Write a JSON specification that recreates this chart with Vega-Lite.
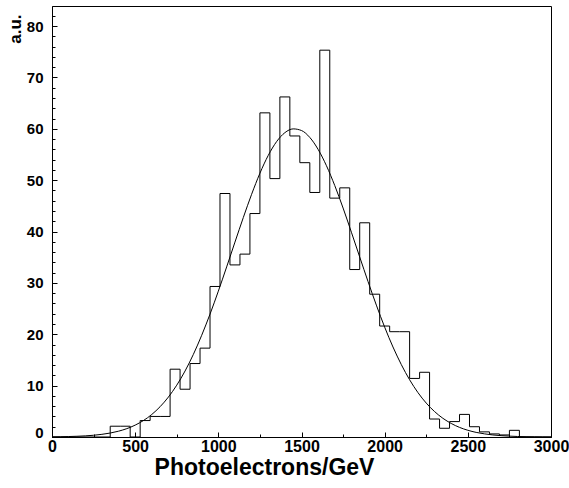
{
  "$schema": "https://vega.github.io/schema/vega-lite/v6.json",
  "width": 499,
  "height": 431,
  "autosize": "none",
  "padding": {"left": 52, "top": 6, "right": 18, "bottom": 51},
  "background": "white",
  "config": {
    "view": {"stroke": "black", "strokeWidth": 1},
    "axis": {
      "labelFont": "Liberation Sans",
      "titleFont": "Liberation Sans",
      "labelFontWeight": "bold",
      "titleFontWeight": "bold",
      "labelColor": "black",
      "titleColor": "black",
      "domainColor": "black",
      "tickColor": "black",
      "grid": false
    }
  },
  "datasets": {
    "hist": [
      {"x": 0, "y": 0}, {"x": 350, "y": 2.1}, {"x": 410, "y": 2.1}, {"x": 470, "y": 0},
      {"x": 530, "y": 3.2}, {"x": 590, "y": 4.0}, {"x": 650, "y": 4.0}, {"x": 710, "y": 13.2},
      {"x": 770, "y": 9.3}, {"x": 830, "y": 14.3}, {"x": 890, "y": 17.3}, {"x": 950, "y": 29.3},
      {"x": 1010, "y": 47.4}, {"x": 1070, "y": 33.5}, {"x": 1130, "y": 35.6}, {"x": 1190, "y": 43.5},
      {"x": 1250, "y": 63.1}, {"x": 1310, "y": 50.3}, {"x": 1370, "y": 66.2}, {"x": 1430, "y": 58.6},
      {"x": 1490, "y": 53.4}, {"x": 1550, "y": 47.6}, {"x": 1610, "y": 75.3}, {"x": 1670, "y": 46.5},
      {"x": 1730, "y": 48.5}, {"x": 1790, "y": 32.6}, {"x": 1850, "y": 41.7}, {"x": 1910, "y": 27.8},
      {"x": 1970, "y": 21.6}, {"x": 2030, "y": 20.5}, {"x": 2090, "y": 20.5}, {"x": 2150, "y": 11.4},
      {"x": 2210, "y": 12.6}, {"x": 2270, "y": 3.5}, {"x": 2330, "y": 1.7}, {"x": 2390, "y": 3.0},
      {"x": 2450, "y": 4.4}, {"x": 2510, "y": 2.0}, {"x": 2570, "y": 1.0}, {"x": 2630, "y": 0.6},
      {"x": 2690, "y": 0.4}, {"x": 2750, "y": 1.3}, {"x": 2810, "y": 0}, {"x": 3000, "y": 0}
    ],
    "fit": [
      {"x": 0, "y": 0.03}, {"x": 50, "y": 0.05}, {"x": 100, "y": 0.09}, {"x": 150, "y": 0.14},
      {"x": 200, "y": 0.22}, {"x": 250, "y": 0.34}, {"x": 300, "y": 0.52}, {"x": 350, "y": 0.77},
      {"x": 400, "y": 1.13}, {"x": 450, "y": 1.63}, {"x": 500, "y": 2.31}, {"x": 550, "y": 3.21},
      {"x": 600, "y": 4.39}, {"x": 650, "y": 5.9}, {"x": 700, "y": 7.78}, {"x": 750, "y": 10.09},
      {"x": 800, "y": 12.85}, {"x": 850, "y": 16.09}, {"x": 900, "y": 19.8}, {"x": 950, "y": 23.92},
      {"x": 1000, "y": 28.39}, {"x": 1050, "y": 33.11}, {"x": 1100, "y": 37.94}, {"x": 1150, "y": 42.71},
      {"x": 1200, "y": 47.24}, {"x": 1250, "y": 51.34}, {"x": 1300, "y": 54.81}, {"x": 1350, "y": 57.49},
      {"x": 1400, "y": 59.24}, {"x": 1450, "y": 59.98}, {"x": 1500, "y": 59.66}, {"x": 1550, "y": 58.31},
      {"x": 1600, "y": 55.98}, {"x": 1650, "y": 52.81}, {"x": 1700, "y": 48.94}, {"x": 1750, "y": 44.57},
      {"x": 1800, "y": 39.86}, {"x": 1850, "y": 35.04}, {"x": 1900, "y": 30.26}, {"x": 1950, "y": 25.67},
      {"x": 2000, "y": 21.39}, {"x": 2050, "y": 17.52}, {"x": 2100, "y": 14.1}, {"x": 2150, "y": 11.14},
      {"x": 2200, "y": 8.65}, {"x": 2250, "y": 6.6}, {"x": 2300, "y": 4.95}, {"x": 2350, "y": 3.64},
      {"x": 2400, "y": 2.64}, {"x": 2450, "y": 1.87}, {"x": 2500, "y": 1.31}, {"x": 2550, "y": 0.9},
      {"x": 2600, "y": 0.61}, {"x": 2650, "y": 0.4}, {"x": 2700, "y": 0.26}, {"x": 2750, "y": 0.17},
      {"x": 2800, "y": 0.1}, {"x": 2850, "y": 0.06}, {"x": 2900, "y": 0.04}, {"x": 2950, "y": 0.02},
      {"x": 3000, "y": 0.01}
    ]
  },
  "layer": [
    {
      "data": {"name": "hist"},
      "mark": {"type": "line", "interpolate": "step-after", "color": "black", "strokeWidth": 1},
      "encoding": {
        "x": {
          "field": "x", "type": "quantitative",
          "scale": {"domain": [0, 3000], "nice": false, "zero": false},
          "axis": {
            "orient": "bottom",
            "values": [0, 500, 1000, 1500, 2000, 2500, 3000],
            "format": "d",
            "tickSize": -5,
            "labelPadding": 6,
            "labelFontSize": 16,
            "labelFlush": false,
            "title": "Photoelectrons/GeV",
            "titleFontSize": 23,
            "titleX": 212,
            "titleY": 19,
            "titleAlign": "center",
            "titleBaseline": "top"
          }
        },
        "y": {
          "field": "y", "type": "quantitative",
          "scale": {"domain": [0, 83.9], "nice": false},
          "axis": {
            "orient": "left",
            "values": [0, 10, 20, 30, 40, 50, 60, 70, 80],
            "format": "d",
            "tickSize": -5,
            "labelPadding": 14,
            "labelFontSize": 15,
            "labelBaseline": {"condition": {"test": "datum.value === 0", "value": "alphabetic"}, "value": "middle"},
            "title": "a.u.",
            "titleFontSize": 17,
            "titleAngle": -90,
            "titleX": -37,
            "titleY": 8,
            "titleAlign": "right",
            "titleBaseline": "middle"
          }
        }
      }
    },
    {
      "data": {"name": "fit"},
      "mark": {"type": "line", "interpolate": "monotone", "color": "black", "strokeWidth": 1},
      "encoding": {
        "x": {
          "field": "x", "type": "quantitative",
          "axis": {
            "orient": "bottom",
            "values": [250, 750, 1250, 1750, 2250, 2750],
            "tickSize": -3,
            "labels": false,
            "domain": false,
            "title": null
          }
        },
        "y": {
          "field": "y", "type": "quantitative",
          "axis": {
            "orient": "left",
            "values": [2, 4, 6, 8, 12, 14, 16, 18, 22, 24, 26, 28, 32, 34, 36, 38, 42, 44, 46, 48, 52, 54, 56, 58, 62, 64, 66, 68, 72, 74, 76, 78, 82],
            "tickSize": -3,
            "labels": false,
            "domain": false,
            "title": null
          }
        }
      }
    }
  ],
  "resolve": {"axis": {"x": "independent", "y": "independent"}}
}
